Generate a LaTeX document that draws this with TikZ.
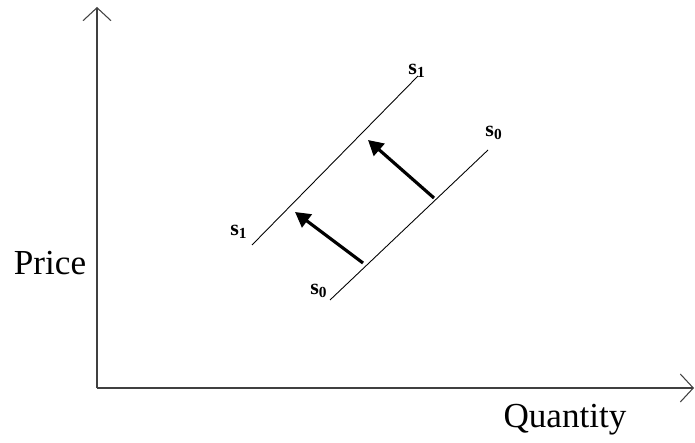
\documentclass[tikz,border=0pt]{standalone}
\usepackage{fontspec}
\setmainfont{Liberation Serif}
\usetikzlibrary{arrows.meta}

\begin{document}
\begin{tikzpicture}[x=0.02cm,y=-0.02cm,
  axis/.style={line width=0.8pt,black!75,-{Straight Barb[length=0.26cm,width=0.56cm,line width=0.6pt]}},
  curve/.style={line width=0.5pt},
  shift arrow/.style={line width=1.8pt,-{Triangle[length=0.3cm,width=0.32cm]}},
  curve label/.style={font=\bfseries\fontsize{12.5}{14}\selectfont,inner sep=0pt},
  axis label/.style={font=\fontsize{20}{24}\selectfont,inner sep=0pt}]
\useasboundingbox (0,0) rectangle (695,442);
% axes
\coordinate (origin) at (97,388);
\coordinate (ptop) at (97,7);
\coordinate (qend) at (694,388);
\draw[axis] (origin) -- (ptop);
\draw[axis] (origin) -- (qend);
\node[axis label] (price) at (50,263) {Price};
\node[axis label] (quantity) at (565,420) {Quantity};
% supply curves
\coordinate (s1a) at (252,245);
\coordinate (s1b) at (418,76);
\coordinate (s0a) at (330,300);
\coordinate (s0b) at (488,150);
\draw[curve] (s1a) -- (s1b);
\draw[curve] (s0a) -- (s0b);
\node[curve label] (s1low) at (239,232) {s\textsubscript{1}};
\node[curve label] (s1high) at (417,71) {s\textsubscript{1}};
\node[curve label] (s0high) at (494,133) {s\textsubscript{0}};
\node[curve label] (s0low) at (319,291) {s\textsubscript{0}};
% shifts
\coordinate (t1) at (363,263);
\coordinate (h1) at (295,212);
\coordinate (t2) at (434,198);
\coordinate (h2) at (368,140);
\draw[shift arrow] (t1) -- (h1);
\draw[shift arrow] (t2) -- (h2);
\end{tikzpicture}
\end{document}
